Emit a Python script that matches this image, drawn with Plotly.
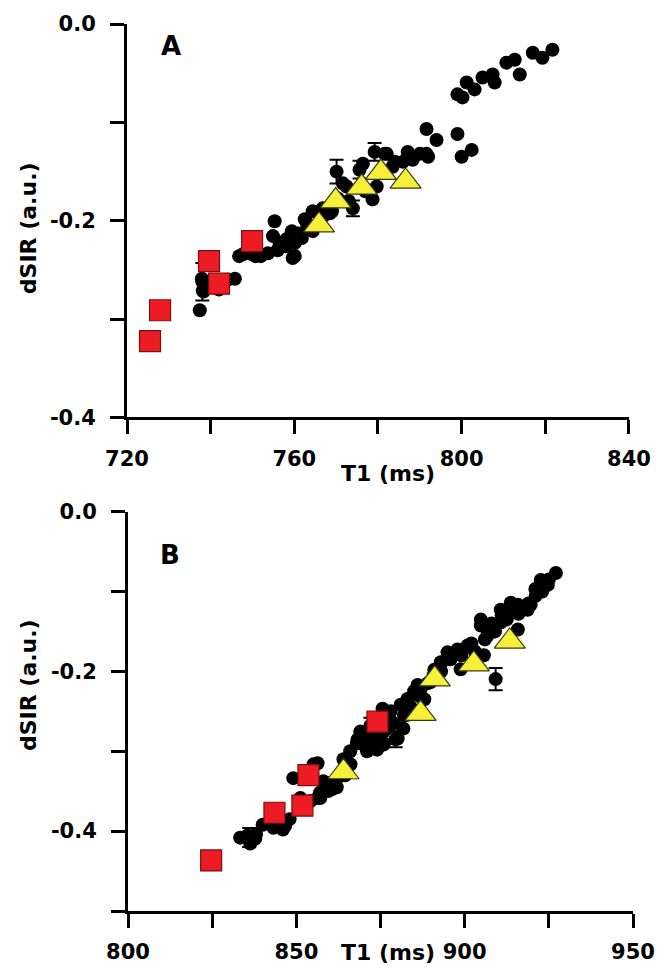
import plotly.graph_objects as go

# ---------------- Panel A data ----------------
a_circ_t1 = [737.4, 737.9, 738.1, 741.7, 745.8, 747.7, 749.9, 751.8, 753.7, 755.3,
             754.9, 756.5, 758.2, 759.4, 760.1, 760.1, 761.8, 762.5, 764.4, 764.4,
             766.8, 769.0, 770.4, 772.5, 776.4, 778.7, 779.7, 782.1, 783.5,
             787.1, 788.3, 791.6, 791.6, 794.0, 799.0, 800.0, 802.4, 799.0, 801.2,
             803.1, 805.0, 807.4, 807.9, 810.7, 812.7, 813.9, 817.0, 819.3, 821.7,
             800.2, 768.5, 771.6, 781.6, 738.3, 742.0, 746.8, 750.7, 759.6, 756.5,
             752.0, 756.0, 758.0, 761.0, 763.0, 767.0, 773.0, 777.0, 784.0, 786.0,
             790.0, 792.0, 744.0, 739.0]
a_circ_dsir = [-0.291, -0.259, -0.271, -0.269, -0.259, -0.234, -0.234, -0.234, -0.233, -0.2005,
               -0.2156, -0.2237, -0.2186, -0.2106, -0.2358, -0.2227, -0.2176, -0.1985, -0.2106, -0.1904,
               -0.1874, -0.1904, -0.1773, -0.1652, -0.1421, -0.1783, -0.1652, -0.132, -0.1451,
               -0.130, -0.138, -0.132, -0.1068, -0.1179, -0.1118, -0.135, -0.128, -0.0715, -0.0594,
               -0.0665, -0.0544, -0.0514, -0.0594, -0.0393, -0.0363, -0.0514, -0.0292, -0.0343, -0.0262,
               -0.0746, -0.1924, -0.162, -0.132, -0.272, -0.270, -0.236, -0.236, -0.238, -0.222,
               -0.236, -0.230, -0.226, -0.213, -0.203, -0.195, -0.180, -0.170, -0.140, -0.140,
               -0.132, -0.135, -0.260, -0.262]
a_err_t1 = [770.1, 775.6, 779.2, 774.0, 738.0]
a_err_dsir = [-0.1501, -0.1481, -0.130, -0.1874, -0.262]
a_err_val = [0.012, 0.009, 0.009, 0.008, 0.019]
a_sq_t1 = [725.5, 727.9, 739.6, 742.0, 749.9]
a_sq_dsir = [-0.3224, -0.291, -0.241, -0.264, -0.2207]
a_tri_t1 = [765.9, 769.9, 776.1, 780.7, 786.6]
a_tri_dsir = [-0.2045, -0.180, -0.166, -0.151, -0.160]

# ---------------- Panel B data ----------------
b_circ_t1 = [835.4, 837.8, 833.3, 836.3, 844.3, 846.7, 842.3, 843.2, 851.2, 854.2,
             856.3, 853.3, 857.1, 859.5, 849.1, 855.1, 856.3, 858.0, 860.7, 862.2,
             866.1, 868.2, 869.9, 872.9, 875.9, 869.0, 875.6, 881.0, 881.8, 880.1,
             883.0, 886.0, 883.0, 886.9, 890.8, 895.8, 897.9, 900.9, 898.8, 904.8,
             906.8, 910.7, 913.7, 915.8, 918.7, 921.1, 922.6, 924.7, 927.1, 905.7,
             902.7, 915.8, 910.7, 919.6, 894.9, 892.9, 889.9, 884.8, 904.8, 878.0,
             871.0, 877.5, 864.5, 888.0, 893.0, 908.5, 912.5,
             838.0, 840.0, 846.0, 848.0, 852.0, 857.0, 860.0, 862.0, 864.0, 866.0,
             868.0, 871.0, 873.0, 874.0, 876.0, 878.0, 879.0, 882.0, 884.0, 885.0,
             887.0, 889.0, 891.0, 893.0, 896.0, 899.0, 902.0, 903.0, 906.0, 908.0,
             909.0, 911.0, 913.0, 916.0, 919.0, 921.0, 923.0, 925.0, 870.0, 872.0,
             874.0, 876.0]
b_circ_dsir = [-0.4057, -0.4094, -0.4082, -0.4156, -0.3933, -0.3933, -0.3896, -0.3958, -0.3586, -0.3623,
               -0.3586, -0.3648, -0.3586, -0.3499, -0.3337, -0.3164, -0.3151, -0.3375, -0.3474, -0.3337,
               -0.3164, -0.2854, -0.2916, -0.2965, -0.2916, -0.2754, -0.2469, -0.2419, -0.2717, -0.2841,
               -0.2543, -0.2171, -0.2345, -0.2221, -0.2047, -0.1849, -0.1725, -0.1675, -0.1973, -0.1427,
               -0.1551, -0.1228, -0.1141, -0.1166, -0.1228, -0.1055, -0.0856, -0.0918, -0.0769, -0.1799,
               -0.1886, -0.1476, -0.1390, -0.1166, -0.1762, -0.1886, -0.2134, -0.2295, -0.1352, -0.262,
               -0.280, -0.270, -0.330, -0.235, -0.200, -0.150, -0.135,
               -0.404, -0.392, -0.398, -0.385, -0.372, -0.352, -0.340, -0.345, -0.310, -0.300,
               -0.290, -0.300, -0.285, -0.280, -0.275, -0.250, -0.265, -0.255, -0.245, -0.225,
               -0.232, -0.215, -0.198, -0.190, -0.178, -0.180, -0.165, -0.175, -0.160, -0.140,
               -0.150, -0.130, -0.125, -0.128, -0.115, -0.097, -0.100, -0.085, -0.283, -0.292,
               -0.298, -0.290]
b_err_t1 = [836.0, 909.2, 879.5, 872.0]
b_err_dsir = [-0.408, -0.2097, -0.285, -0.268]
b_err_val = [0.012, 0.014, 0.010, 0.010]
b_sq_t1 = [824.7, 843.5, 851.8, 853.6, 874.1]
b_sq_dsir = [-0.4367, -0.377, -0.368, -0.330, -0.263]
b_tri_t1 = [864.0, 891.1, 886.9, 902.7, 913.4]
b_tri_dsir = [-0.326, -0.2097, -0.253, -0.191, -0.1625]

# tick definitions
a_xticks = [720, 740, 760, 780, 800, 820, 840]
a_xlabels = ["720", "", "760", "", "800", "", "840"]
a_yticks = [0.0, -0.1, -0.2, -0.3, -0.4]
a_ylabels = ["0.0", "", "-0.2", "", "-0.4"]
b_xticks = [800, 825, 850, 875, 900, 925, 950]
b_xlabels = ["800", "", "850", "", "900", "", "950"]
b_yticks = [0.0, -0.1, -0.2, -0.3, -0.4, -0.5]
b_ylabels = ["0.0", "", "-0.2", "", "-0.4", ""]

FONT = "DejaVu Sans"
RED = "#ED1C24"
YEL = "#F6F03A"

fig = go.Figure()


def add_panel(xa, ya, err_t, err_d, err_v, ct, cd, st, sd, tt, td):
    fig.add_trace(go.Scatter(
        x=err_t, y=err_d, mode="markers", xaxis=xa, yaxis=ya,
        marker=dict(color="black", size=14, symbol="circle"),
        error_y=dict(type="data", array=err_v, visible=True, color="black",
                     thickness=2, width=7),
        showlegend=False, hoverinfo="skip"))
    fig.add_trace(go.Scatter(
        x=ct, y=cd, mode="markers", xaxis=xa, yaxis=ya,
        marker=dict(color="black", size=14, symbol="circle"),
        showlegend=False))
    fig.add_trace(go.Scatter(
        x=tt, y=td, mode="markers", xaxis=xa, yaxis=ya,
        marker=dict(color=YEL, size=27, symbol="triangle-up",
                    line=dict(color="#3a3a10", width=1.2)),
        showlegend=False))
    fig.add_trace(go.Scatter(
        x=st, y=sd, mode="markers", xaxis=xa, yaxis=ya,
        marker=dict(color=RED, size=21, symbol="square",
                    line=dict(color="#7a1010", width=1.2)),
        showlegend=False))


add_panel("x", "y", a_err_t1, a_err_dsir, a_err_val, a_circ_t1, a_circ_dsir,
          a_sq_t1, a_sq_dsir, a_tri_t1, a_tri_dsir)
add_panel("x2", "y2", b_err_t1, b_err_dsir, b_err_val, b_circ_t1, b_circ_dsir,
          b_sq_t1, b_sq_dsir, b_tri_t1, b_tri_dsir)

axis_common = dict(showline=True, linecolor="black", linewidth=3, ticks="outside",
                   ticklen=14, tickwidth=3, tickcolor="black", showgrid=False,
                   zeroline=False,
                   tickfont=dict(family=FONT, size=21, color="black", weight="bold"))

fig.update_layout(
    width=669, height=976,
    margin=dict(l=127, r=36, t=16, b=65),
    paper_bgcolor="white", plot_bgcolor="white",
    font=dict(family=FONT, color="black"),
    xaxis=dict(domain=[0, 0.992], range=[720, 840], anchor="y",
               tickmode="array", tickvals=a_xticks, ticktext=a_xlabels,
               ticklabelstandoff=6, **axis_common),
    yaxis=dict(domain=[0.5564, 1], range=[-0.4, 0], anchor="x",
               tickmode="array", tickvals=a_yticks, ticktext=a_ylabels,
               ticklabelstandoff=10, **axis_common),
    xaxis2=dict(domain=[0.002, 1], range=[800, 950], anchor="y2",
                tickmode="array", tickvals=b_xticks, ticktext=b_xlabels,
                ticklabelstandoff=6, **axis_common),
    yaxis2=dict(domain=[0, 0.4503], range=[-0.5, 0], anchor="x2",
                tickmode="array", tickvals=b_yticks, ticktext=b_ylabels,
                ticklabelstandoff=10, **axis_common),
)

tf = dict(family=FONT, size=22, color="black")
ann = [
    dict(text="<b>dSIR (a.u.)</b>", x=(28 - 127) / 506, y=(911 - 222) / 895, textangle=-90),
    dict(text="<b>dSIR (a.u.)</b>", x=(28 - 127) / 506, y=(911 - 683) / 895, textangle=-90),
    dict(text="<b>T1 (ms)</b>", x=(388 - 127) / 506, y=(911 - 470) / 895),
    dict(text="<b>T1 (ms)</b>", x=(388 - 127) / 506, y=(911 - 953) / 895),
]
for a in ann:
    fig.add_annotation(xref="paper", yref="paper", xanchor="center", yanchor="middle",
                       showarrow=False, font=tf, **a)
for lab, px, py in [("A", 171, 38), ("B", 170, 552)]:
    fig.add_annotation(text="<b>%s</b>" % lab, xref="paper", yref="paper",
                       x=(px - 127) / 506, y=(911 - py) / 895, xanchor="center",
                       yanchor="middle", showarrow=False,
                       font=dict(family=FONT, size=26, color="black"))

fig.write_html("out.html")
